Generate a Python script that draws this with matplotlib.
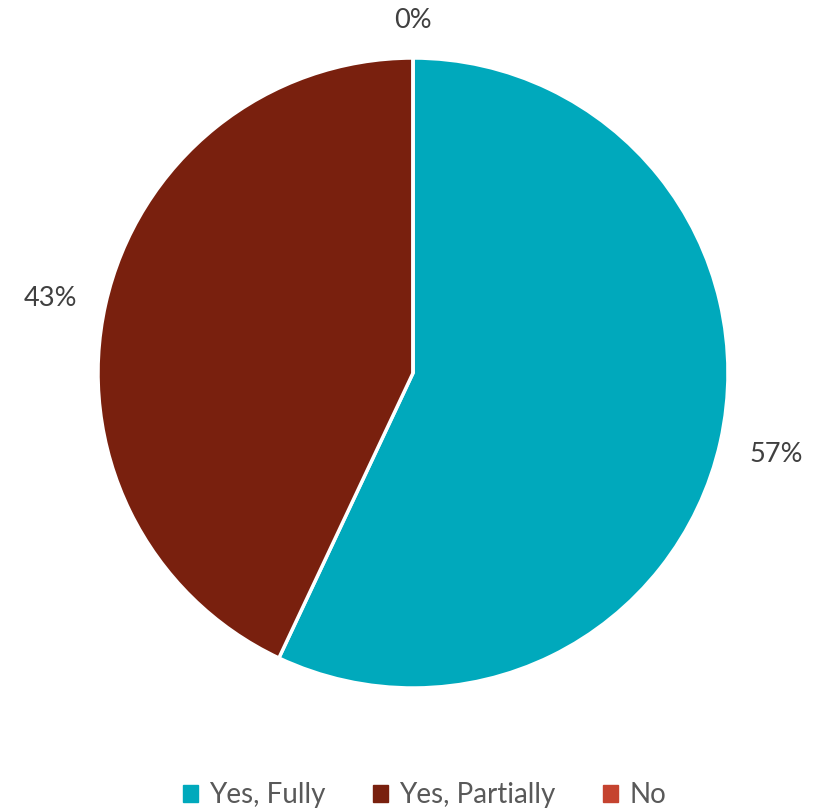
import matplotlib
matplotlib.use("Agg")
import matplotlib.pyplot as plt
import numpy as np

categories = ["Yes, Fully", "Yes, Partially", "No"]
values = [57, 43, 0]
labels = ["57%", "43%", "0%"]
colors = ["#00A9BC", "#79200E", "#C5432F"]

plt.rcParams['font.family'] = ['Lato', 'DejaVu Sans']
W, H = 813, 811
fig = plt.figure(figsize=(W/100, H/100), dpi=100)
cx, cy, R = 413, 373, 315
ax = fig.add_axes([(cx-R)/W, (H-cy-R)/H, 2*R/W, 2*R/H])
wedges, _ = ax.pie(values, colors=colors, startangle=90, counterclock=False,
                   radius=1, wedgeprops=dict(edgecolor="white", linewidth=2.5))
ax.set_xlim(-1, 1)
ax.set_ylim(-1, 1)
ax.set_aspect('equal')
ax.axis('off')
for w in wedges:
    w.set_clip_on(False)

dists = [1.18, 1.18, 1.12]
offs = [(0, 0), (0, -0.02), (0, 0)]
for w, lab, d, o in zip(wedges, labels, dists, offs):
    ang = np.deg2rad((w.theta1 + w.theta2) / 2)
    ax.text(d*np.cos(ang) + o[0], d*np.sin(ang) + o[1], lab, ha='center', va='center',
            fontsize=19.5, color='#404040', clip_on=False)

handles = [plt.Rectangle((0, 0), 1, 1, color=c) for c in colors]
fig.legend(handles, categories, loc='center', bbox_to_anchor=(0.522, 1-795/H),
           ncol=3, frameon=False, fontsize=20, handlelength=0.55, handleheight=0.55,
           handletextpad=0.4, columnspacing=1.7, labelcolor='#595959')
fig.savefig("out.png", dpi=100)
